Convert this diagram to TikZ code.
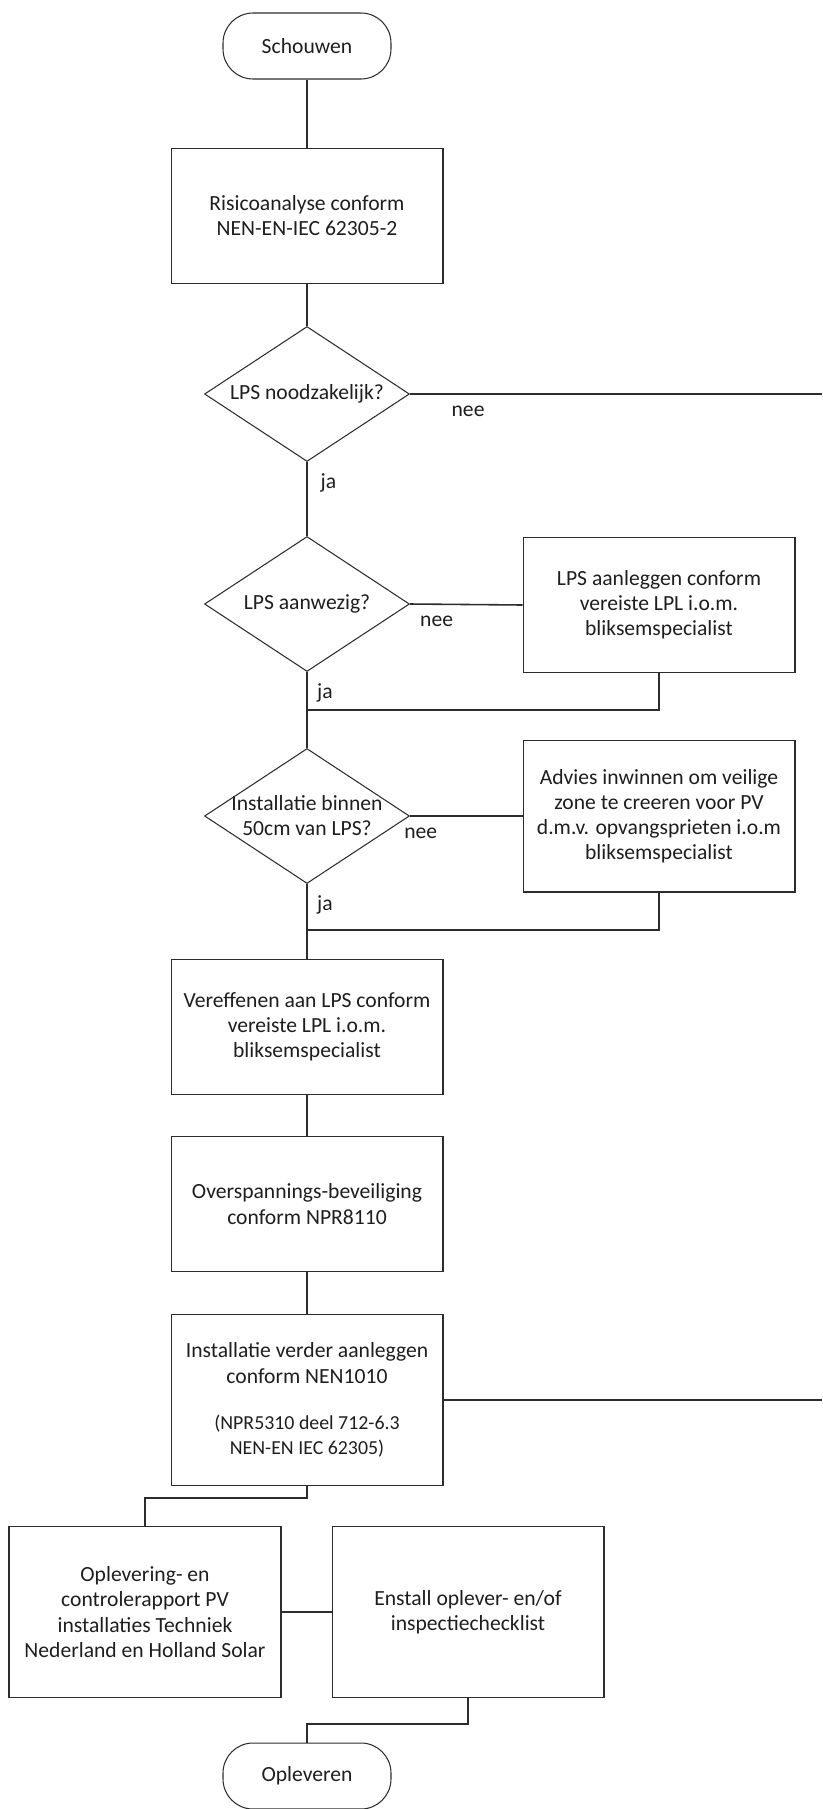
\documentclass[tikz,border=0pt]{standalone}
\usepackage{fontspec}
\setmainfont{Carlito}
\usepackage{tikz}
\usetikzlibrary{shapes.geometric,calc}
\definecolor{lijngrijs}{RGB}{45,45,45}
\definecolor{tekstgrijs}{RGB}{30,30,30}

\begin{document}
\begin{tikzpicture}[x=0.02cm, y=-0.02cm,
        every node/.style={font=\fontsize{12.3}{14.3}\selectfont, text=tekstgrijs},
        terminal/.style={rectangle, rounded corners=0.6cm, draw=lijngrijs, line width=0.6pt, minimum width=3.36cm, minimum height=1.32cm, align=center},
        stap/.style={rectangle, draw=lijngrijs, line width=0.6pt, minimum width=5.44cm, minimum height=2.7cm, align=center},
        keuze/.style={diamond, draw=lijngrijs, line width=0.6pt, minimum width=4.1cm, minimum height=2.7cm, inner sep=0pt},
        lijn/.style={draw=lijngrijs, line width=0.9pt},
        antwoord/.style={anchor=north west, pos=0, yshift=-3pt}]

        \useasboundingbox (0,0) rectangle (822,1809);
        \coordinate (rechts) at (822,0);

        % Nodes
        \node[terminal] (start) at (307,46) {Schouwen};
        \node[stap] (risico) at (307,216) {Risicoanalyse conform\\NEN-EN-IEC 62305-2};
        \node[keuze, label={[align=center]center:LPS noodzakelijk?}] (nodig) at (307,394) {};
        \node[keuze, label={[align=center]center:LPS aanwezig?}] (aanwezig) at (307,604) {};
        \node[stap] (aanleg) at (659,605) {LPS aanleggen conform\\vereiste LPL i.o.m.\\bliksemspecialist};
        \node[keuze, label={[align=center]center:Installatie binnen\\50cm van LPS?}] (binnen) at (307,816) {};
        \node[stap, minimum height=3.04cm] (advies) at (659,816) {Advies inwinnen om veilige\\zone te creeren voor PV\\d.m.v. opvangsprieten i.o.m\\bliksemspecialist};
        \node[stap] (vereffen) at (307,1027) {Vereffenen aan LPS conform\\vereiste LPL i.o.m.\\bliksemspecialist};
        \node[stap] (overspan) at (307,1204) {Overspannings-beveiliging\\conform NPR8110};
        \node[stap, minimum height=3.42cm] (verder) at (307,1400) {Installatie verder aanleggen\\conform NEN1010\\[12pt]{\fontsize{11.3}{13.2}\selectfont (NPR5310 deel 712-6.3}\\{\fontsize{11.3}{13.2}\selectfont NEN-EN IEC 62305)}};
        \node[stap, minimum height=3.42cm] (rapport) at (145,1612) {Oplevering- en\\controlerapport PV\\installaties Techniek\\Nederland en Holland Solar};
        \node[stap, minimum height=3.42cm] (checklist) at (468,1612) {Enstall oplever- en/of\\inspectiechecklist};
        \node[terminal] (eind) at (307,1776) {Opleveren};

        % Junctions
        \coordinate (samen1) at (307,710);
        \coordinate (samen2) at (307,930);

        % Connections
        \draw[lijn] (start) -- (risico);
        \draw[lijn] (risico) -- (nodig);
        \draw[lijn] (nodig.east) -- node[antwoord, xshift=0.7cm]{nee} (nodig.east -| rechts);
        \draw[lijn] (nodig.south) -- node[antwoord, xshift=4pt]{ja} (aanwezig.north);
        \draw[lijn] (aanwezig.east) -- node[antwoord, xshift=2pt]{nee} (aanleg.west);
        \draw[lijn] (aanwezig.south) -- node[antwoord, xshift=2pt]{ja} (samen1) -- (binnen.north);
        \draw[lijn] (aanleg.south) |- (samen1);
        \draw[lijn] (binnen.east) -- node[antwoord, xshift=-7pt]{nee} (advies.west);
        \draw[lijn] (binnen.south) -- node[antwoord, xshift=2pt]{ja} (samen2) -- (vereffen.north);
        \draw[lijn] (advies.south) |- (samen2);
        \draw[lijn] (vereffen) -- (overspan);
        \draw[lijn] (overspan) -- (verder);
        \draw[lijn] (verder.east) -- (verder.east -| rechts);
        \draw[lijn] (verder.south) -- ++(0,12) -| (rapport.north);
        \draw[lijn] (rapport) -- (checklist);
        \draw[lijn] (checklist.south) -- ++(0,26) -| (eind.north);

\end{tikzpicture}
\end{document}
